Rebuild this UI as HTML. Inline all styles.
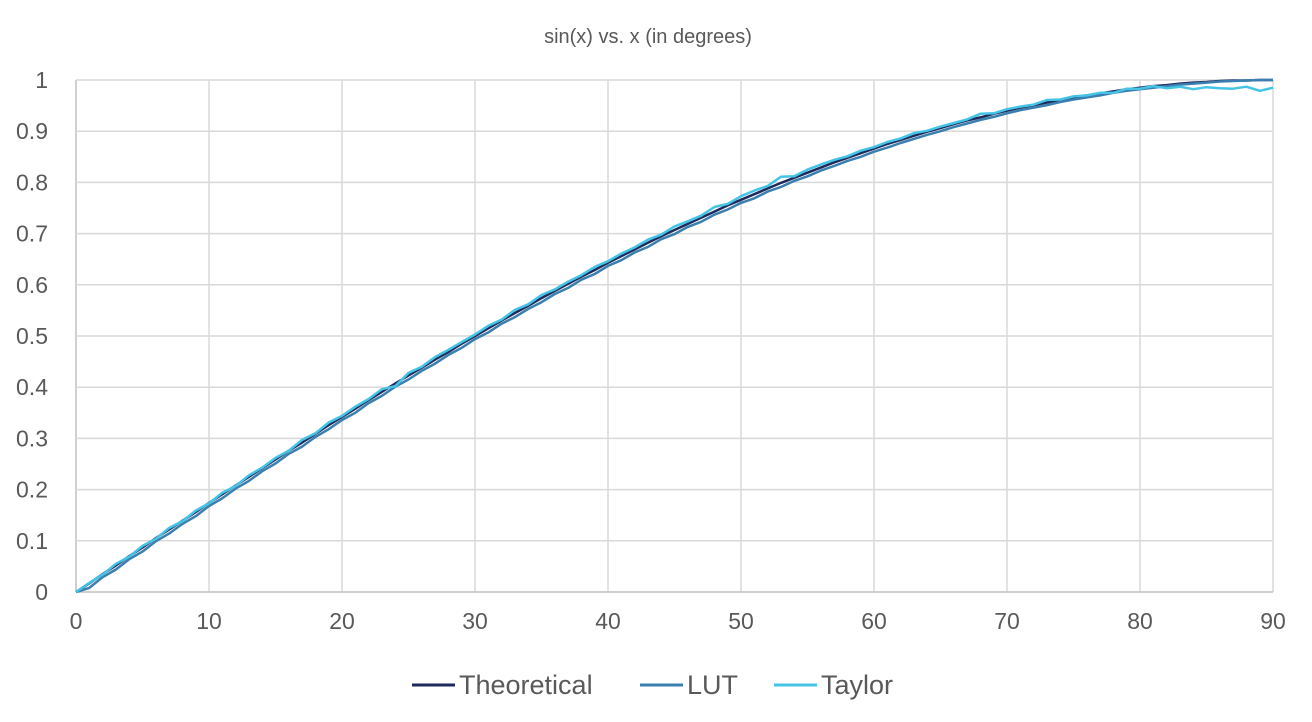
<!DOCTYPE html>
<html><head><meta charset="utf-8"><style>
body{margin:0;background:#fff;font-family:"Liberation Sans",sans-serif}
</style></head><body>
<svg id="c" width="1312" height="722" style="display:block">
<text x="648" y="43" text-anchor="middle" font-size="20" fill="#595959">sin(x) vs. x (in degrees)</text>
<g id="grid"></g><g id="lines"></g><g id="ticks"></g>
<g>
<line x1="412" y1="685" x2="455" y2="685" stroke="#1f2a5c" stroke-width="3"/>
<text x="459" y="694" font-size="27" fill="#595959">Theoretical</text>
<line x1="640" y1="685" x2="683" y2="685" stroke="#3a7fb0" stroke-width="3"/>
<text x="687" y="694" font-size="27" fill="#595959">LUT</text>
<line x1="774" y1="685" x2="817" y2="685" stroke="#45c4e6" stroke-width="3"/>
<text x="821" y="694" font-size="27" fill="#595959">Taylor</text>
</g>
</svg>
<script>
const xTicks=[0,10,20,30,40,50,60,70,80,90];
const yTicks=[0,0.1,0.2,0.3,0.4,0.5,0.6,0.7,0.8,0.9,1];
const yLabels=["0","0.1","0.2","0.3","0.4","0.5","0.6","0.7","0.8","0.9","1"];
const degrees=[0,1,2,3,4,5,6,7,8,9,10,11,12,13,14,15,16,17,18,19,20,21,22,23,24,25,26,27,28,29,30,31,32,33,34,35,36,37,38,39,40,41,42,43,44,45,46,47,48,49,50,51,52,53,54,55,56,57,58,59,60,61,62,63,64,65,66,67,68,69,70,71,72,73,74,75,76,77,78,79,80,81,82,83,84,85,86,87,88,89,90];
const theoretical=[0,.017,.035,.052,.070,.087,.105,.122,.139,.156,.174,.191,.208,.225,.242,.259,.276,.292,.309,.326,.342,.358,.375,.391,.407,.423,.438,.454,.469,.485,.5,.515,.530,.545,.559,.574,.588,.602,.616,.629,.643,.656,.669,.682,.695,.707,.719,.731,.743,.755,.766,.777,.788,.799,.809,.819,.829,.839,.848,.857,.866,.875,.883,.891,.899,.906,.914,.921,.927,.934,.940,.946,.951,.956,.961,.966,.970,.974,.978,.982,.985,.988,.990,.993,.995,.996,.998,.999,.999,1,1];
const lut=[-.004,.008,.029,.044,.064,.079,.099,.114,.133,.148,.168,.183,.202,.217,.236,.251,.270,.284,.303,.318,.336,.350,.369,.383,.401,.415,.432,.446,.463,.477,.494,.507,.524,.537,.553,.566,.582,.594,.610,.621,.637,.648,.663,.674,.689,.699,.713,.723,.737,.747,.760,.769,.782,.791,.803,.812,.823,.832,.842,.850,.860,.868,.877,.885,.893,.900,.908,.915,.922,.928,.935,.941,.946,.951,.957,.962,.966,.970,.975,.979,.982,.985,.988,.991,.993,.995,.997,.998,.999,1,1];
const taylor=[0,.018,.034,.055,.069,.090,.104,.125,.138,.159,.173,.194,.207,.228,.243,.262,.276,.297,.310,.331,.344,.362,.377,.396,.402,.428,.440,.459,.473,.488,.503,.520,.532,.551,.562,.580,.591,.606,.619,.635,.646,.661,.673,.688,.698,.714,.724,.735,.752,.758,.773,.784,.793,.811,.812,.825,.835,.844,.851,.862,.869,.879,.886,.896,.901,.909,.916,.923,.934,.935,.943,.948,.952,.961,.962,.968,.970,.975,.975,.983,.983,.988,.984,.987,.982,.986,.984,.983,.987,.979,.985];
const X0=76,X1=1273,Y0=592,Y1=80;
const sx=v=>X0+(v-0)/(90-0)*(X1-X0);
const sy=v=>Y0-(v-0)/(1-0)*(Y0-Y1);
const NS="http://www.w3.org/2000/svg";
const g=document.getElementById('grid'),t=document.getElementById('ticks'),L=document.getElementById('lines');
function mk(tag,attrs,parent){const e=document.createElementNS(NS,tag);for(const k in attrs)e.setAttribute(k,attrs[k]);parent.appendChild(e);return e;}
xTicks.forEach(v=>{
 const ln=mk('line',{x1:sx(v),x2:sx(v),y1:Y1,y2:Y0,stroke:v===0?'#bfbfbf':'#d9d9d9','stroke-width':1.5},g);
 
 
 const tx=mk('text',{x:sx(v),y:Y0+37,'text-anchor':'middle','font-size':23,fill:'#595959'},t);
 tx.textContent=v;
 
 
});
yTicks.forEach((v,i)=>{
 const ln=mk('line',{x1:X0,x2:X1,y1:sy(v),y2:sy(v),stroke:v===0?'#bfbfbf':'#d9d9d9','stroke-width':1.5},g);
 
 
 const tx=mk('text',{x:48,y:sy(v)+8,'text-anchor':'end','font-size':23,fill:'#595959'},t);
 tx.textContent=yLabels[i];
 
 
});
function series(arr,color,name){
 const d=arr.map((v,i)=>(i?'L':'M')+sx(degrees[i]).toFixed(1)+','+sy(Math.max(v,0)).toFixed(1)).join('');
 const p=mk('path',{d:d,fill:'none',stroke:color,'stroke-width':2.5,'stroke-linejoin':'round'},L);
 
 
}
series(theoretical,'#1f2a5c','theoretical-line');
series(lut,'#3a7fb0','lut-line');
series(taylor,'#45c4e6','taylor-line');
</script>
</body></html>
